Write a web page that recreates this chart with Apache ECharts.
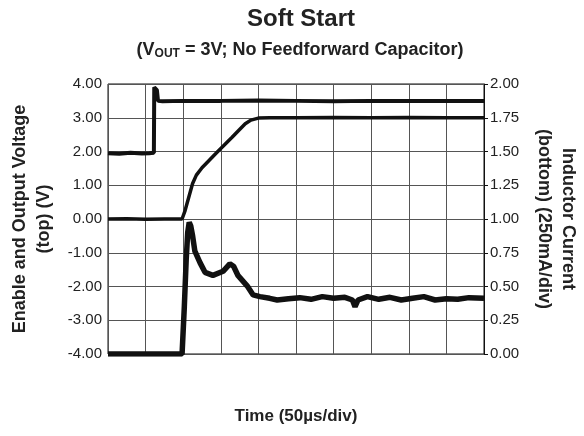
<!DOCTYPE html>
<html><head><meta charset="utf-8">
<script src="https://cdn.jsdelivr.net/npm/echarts@6/dist/echarts.min.js"></script>
<style>html,body{margin:0;padding:0;background:#fff}#c{width:584px;height:436px}</style>
</head><body><div id="c"></div>
<script>
// time in divisions (50us/div)
var enT = [0, 0.3, 0.6, 0.9, 1.1, 1.22, 1.23, 1.30, 1.33, 1.45, 2, 3, 4, 5, 6, 7, 8, 9, 10];
var enV = [1.95, 1.93, 1.96, 1.94, 1.95, 1.96, 3.9, 3.82, 3.5, 3.49, 3.5, 3.5, 3.51, 3.5, 3.49, 3.5, 3.5, 3.5, 3.5];
var voT = [0, 0.5, 1, 1.5, 1.97, 2.05, 2.15, 2.25, 2.35, 2.5, 2.7, 2.9, 3.1, 3.3, 3.5, 3.65, 3.8, 4.0, 4.3, 5, 6, 7, 8, 9, 10];
var voV = [0, 0.01, -0.01, 0, 0, 0.25, 0.65, 1.05, 1.3, 1.52, 1.75, 1.98, 2.2, 2.42, 2.65, 2.82, 2.93, 2.99, 3.0, 3.0, 3.01, 3.0, 3.01, 3.0, 3.0];
var ilT = [0, 0.5, 1, 1.5, 1.97, 2.03, 2.08, 2.12, 2.16, 2.2, 2.25, 2.31, 2.45, 2.58, 2.79, 3.06, 3.24, 3.34, 3.46, 3.7, 3.86, 4.04, 4.3, 4.5, 4.8, 5.1, 5.4, 5.7, 6.0, 6.3, 6.5, 6.57, 6.65, 6.9, 7.2, 7.5, 7.8, 8.1, 8.4, 8.7, 9.0, 9.3, 9.6, 10];
var ilV = [-4, -4, -4, -4, -4, -2.6, -1.2, -0.4, -0.1, -0.2, -0.5, -0.95, -1.3, -1.58, -1.67, -1.55, -1.33, -1.4, -1.68, -1.98, -2.25, -2.3, -2.35, -2.4, -2.36, -2.33, -2.38, -2.3, -2.35, -2.32, -2.4, -2.6, -2.4, -2.3, -2.38, -2.32, -2.4, -2.35, -2.3, -2.4, -2.36, -2.38, -2.33, -2.35];

function pairs(t, v) { return t.map(function (x, i) { return [x, v[i]]; }); }
var F = 'Liberation Sans, Arial, sans-serif';
var chart = echarts.init(document.getElementById('c'), null, {renderer: 'canvas'});
chart.setOption({
  animation: false,
  title: [
    {text: 'Soft Start', left: 296, top: 2, textAlign: 'center',
     textStyle: {fontFamily: F, fontSize: 24, fontWeight: 'bold', color: '#222'}},
    {text: '(V{sub|OUT} = 3V; No Feedforward Capacitor)', left: 295, top: 35, textAlign: 'center',
     textStyle: {fontFamily: F, fontSize: 18, fontWeight: 'bold', color: '#222',
       rich: {sub: {fontFamily: F, fontSize: 12, fontWeight: 'bold', color: '#222', padding: [8, 0, 0, 0]}}}}
  ],
  grid: {left: 108, right: 100, top: 84, bottom: 82, show: true, borderColor: '#111', borderWidth: 1,
         outerBoundsMode: 'none', containLabel: false},
  xAxis: {type: 'value', min: 0, max: 10, interval: 1,
    name: 'Time (50µs/div)', nameLocation: 'middle', nameGap: 54,
    nameTextStyle: {fontFamily: F, fontSize: 17, fontWeight: 'bold', color: '#222'},
    axisLine: {show: false}, axisTick: {show: false}, axisLabel: {show: false},
    splitLine: {show: true, lineStyle: {color: '#555', width: 1}}},
  yAxis: [
    {type: 'value', min: -4, max: 4, interval: 1, position: 'left',
     name: 'Enable and Output Voltage\n(top) (V)', nameLocation: 'middle', nameGap: 52, nameRotate: 90,
     nameTextStyle: {fontFamily: F, fontSize: 18, fontWeight: 'bold', color: '#222', lineHeight: 24},
     axisLine: {show: false}, axisTick: {show: false},
     axisLabel: {fontFamily: F, fontSize: 15, color: '#222', margin: 6, formatter: function (v) { return v.toFixed(2); }},
     splitLine: {show: true, lineStyle: {color: '#555', width: 1}}},
    {type: 'value', min: 0, max: 2, interval: 0.25, position: 'right',
     name: 'Inductor Current\n(bottom) (250mA/div)', nameLocation: 'middle', nameGap: 48, nameRotate: -90,
     nameTextStyle: {fontFamily: F, fontSize: 18, fontWeight: 'bold', color: '#222', lineHeight: 24},
     axisLine: {show: true, lineStyle: {color: '#111'}}, axisTick: {show: true, length: 4, lineStyle: {color: '#111'}},
     axisLabel: {fontFamily: F, fontSize: 15, color: '#222', margin: 6, formatter: function (v) { return v.toFixed(2); }},
     splitLine: {show: false}}
  ],
  series: [
    {type: 'line', yAxisIndex: 0, data: pairs(enT, enV), showSymbol: false, lineStyle: {color: '#111', width: 4}},
    {type: 'line', yAxisIndex: 0, data: pairs(voT, voV), showSymbol: false, lineStyle: {color: '#111', width: 3.5}},
    {type: 'line', yAxisIndex: 0, data: pairs(ilT, ilV), showSymbol: false, lineStyle: {color: '#111', width: 5.5}}
  ]
});
</script></body></html>
